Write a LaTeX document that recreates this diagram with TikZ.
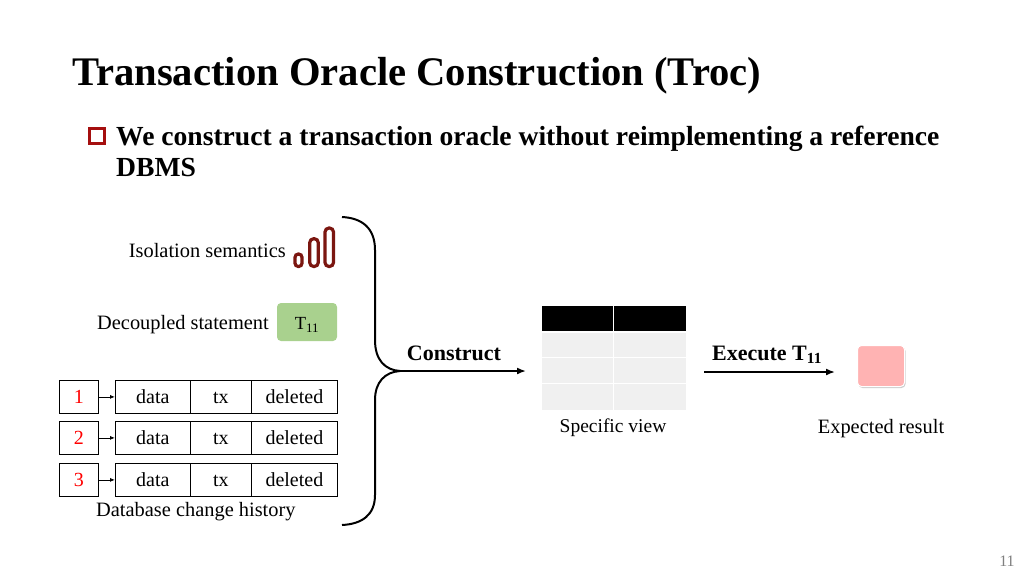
\documentclass[tikz,border=0pt]{standalone}
\usepackage{fontspec}
\setmainfont{Liberation Serif}
\usetikzlibrary{arrows.meta,shadows}
\definecolor{darkbar}{HTML}{7B1610}
\definecolor{bulletred}{HTML}{A50F0F}
\definecolor{greenbox}{HTML}{A9D18E}
\definecolor{pinkbox}{HTML}{FFB3B3}
\definecolor{rowgray}{HTML}{F0F0F0}
\tikzset{
	cell/.style={draw=black, line width=0.8pt, minimum height=33, inner sep=0, anchor=north west, text height=13, text depth=0, font=\fontsize{20}{22}\selectfont},
	plain/.style={inner sep=0, font=\fontsize{20.4}{22}\selectfont},
	strong/.style={inner sep=0, font=\fontsize{22}{24}\selectfont\bfseries},
	heading/.style={inner sep=0, anchor=west, font=\fontsize{27.6}{30}\selectfont\bfseries},
	bar/.style={draw=darkbar, line width=3.2, rounded corners=4},
	viewcell/.style={fill=rowgray, draw=none, inner sep=0, anchor=north west, minimum width=71},
	link/.style={-{Latex[length=5,width=4]}, line width=0.8pt},
	flow/.style={-{Latex[length=9,width=7]}, line width=1.7pt}
}
\begin{document}
\begin{tikzpicture}[x=1pt,y=-1pt]
\useasboundingbox (0,0) rectangle (1024,576);
% heading
\node[inner sep=0, anchor=west, font=\fontsize{40.6}{44}\selectfont\bfseries] (title) at (72,76) {Transaction Oracle Construction (Troc)};
\node[draw=bulletred, line width=3.6, fill=white, minimum size=15, inner sep=0] (bullet) at (97,136) {};
\node[heading] (line1) at (116,139) {We construct a transaction oracle without reimplementing a reference};
\node[heading] (line2) at (116,167) {DBMS};
% left inputs
\node[plain, anchor=east] (isolation) at (286,251) {Isolation semantics};
\draw[bar, rounded corners=3.3] (295,254) rectangle (302,266.5);
\draw[bar] (309.7,238.7) rectangle (318.3,266.5);
\draw[bar] (325,228) rectangle (333.5,266.5);
\node[plain, anchor=east] (decoupled) at (269,325) {Decoupled statement};
\node[fill=greenbox, rounded corners=4, minimum width=60, minimum height=38, inner sep=0, text height=15, text depth=0, font=\fontsize{18.5}{20}\selectfont] (t11) at (307,322) {T\textsubscript{11}};
% change history
\node[cell, minimum width=39, text=red] (n1) at (59,380) {1};
\node[cell, minimum width=75] (a1) at (115,380) {data};
\node[cell, minimum width=61] (b1) at (190,380) {tx};
\node[cell, minimum width=86] (c1) at (251,380) {deleted};
\node[cell, minimum width=39, text=red] (n2) at (59,421) {2};
\node[cell, minimum width=75] (a2) at (115,421) {data};
\node[cell, minimum width=61] (b2) at (190,421) {tx};
\node[cell, minimum width=86] (c2) at (251,421) {deleted};
\node[cell, minimum width=39, text=red] (n3) at (59,463) {3};
\node[cell, minimum width=75] (a3) at (115,463) {data};
\node[cell, minimum width=61] (b3) at (190,463) {tx};
\node[cell, minimum width=86] (c3) at (251,463) {deleted};
\draw[link] (n1) -- (a1);
\draw[link] (n2) -- (a2);
\draw[link] (n3) -- (a3);
\node[plain, anchor=west] (history) at (96,512) {Database change history};
% brace
\coordinate (tip) at (400,371);
\draw[line width=2pt] (342,217) .. controls (362,218) and (375,228) .. (375,250) -- (375,340)
	.. controls (375,360) and (385,370) .. (tip) .. controls (385,372) and (375,382) .. (375,400)
	-- (375,495) .. controls (375,515) and (362,524) .. (342,525);
% specific view
\node[viewcell, fill=black, minimum height=25] (head1) at (542,306) {};
\node[viewcell, fill=black, minimum height=25, minimum width=72] (head2) at (614,306) {};
\node[viewcell, minimum height=24] (r1a) at (542,333) {};
\node[viewcell, minimum height=24, minimum width=72] (r1b) at (614,333) {};
\node[viewcell, minimum height=25] (r2a) at (542,358) {};
\node[viewcell, minimum height=25, minimum width=72] (r2b) at (614,358) {};
\node[viewcell, minimum height=26] (r3a) at (542,384) {};
\node[viewcell, minimum height=26, minimum width=72] (r3b) at (614,384) {};
\node[plain, font=\fontsize{19.5}{22}\selectfont] (view) at (613,428) {Specific view};
\coordinate (viewin) at (526,371);
\draw[flow] (tip) -- (viewin);
\node[strong] (construct) at (454,353) {Construct};
% result
\coordinate (execstart) at (704,372);
\coordinate (execend) at (835,372);
\draw[flow] (execstart) -- (execend);
\node[strong, anchor=west] (execute) at (712,355) {Execute T\textsubscript{11}};
\node[fill=pinkbox, draw=white, line width=1pt, rounded corners=4, minimum width=47, minimum height=41, inner sep=0, drop shadow={shadow xshift=1pt, shadow yshift=-1.5pt, opacity=0.4}] (result) at (881,366) {};
\node[plain] (expected) at (881,429) {Expected result};
\node[inner sep=0, text=gray, font=\fontsize{16}{18}\selectfont] (page) at (1007,561) {11};
\end{tikzpicture}
\end{document}
